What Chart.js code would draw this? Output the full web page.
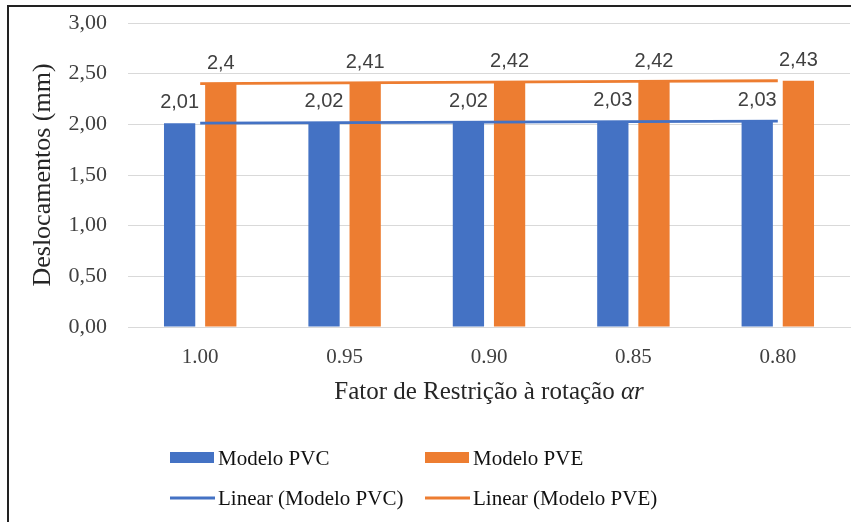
<!DOCTYPE html>
<html>
<head>
<meta charset="utf-8">
<script src="https://cdn.jsdelivr.net/npm/chart.js@4.4.0/dist/chart.umd.min.js"></script>
<style>
  html, body { margin: 0; padding: 0; background: #fff; }
  #quadro { position: relative; width: 857px; height: 522px; overflow: hidden; background: #fff; }
  #moldura { position: absolute; left: 7px; top: 5px; width: 842px; height: 530px;
             border-top: 2px solid #222; border-left: 2px solid #222; }
  #grafico { position: absolute; left: 0; top: 0; }
</style>
</head>
<body>
<div id="quadro">
  <div id="moldura"></div>
  <canvas id="grafico" width="857" height="522"></canvas>
</div>
<script>
const categorias = ['1.00', '0.95', '0.90', '0.85', '0.80'];
const modeloPVC = [2.01, 2.02, 2.02, 2.03, 2.03];
const modeloPVE = [2.4, 2.41, 2.42, 2.42, 2.43];
const eixoY = { min: 0, max: 3, passo: 0.5 };

const AZUL = '#4472C4';
const LARANJA = '#ED7D31';
const SERIF = '"Liberation Serif", "Times New Roman", serif';
const SANS = '"Liberation Sans", Arial, sans-serif';

// linha de tendência linear (mínimos quadrados, x = 1..n)
function tendenciaLinear(valores) {
    const n = valores.length;
    const xs = valores.map((_, i) => i + 1);
    const mx = xs.reduce((a, b) => a + b, 0) / n;
    const my = valores.reduce((a, b) => a + b, 0) / n;
    let num = 0, den = 0;
    xs.forEach((x, i) => { num += (x - mx) * (valores[i] - my); den += (x - mx) ** 2; });
    const b = num / den;
    return xs.map(x => my + b * (x - mx));
}

const virgula = v => String(v).replace('.', ',');

// rótulos de valor em cima das barras
const rotulos = {
    id: 'rotulos',
    afterDatasetsDraw(chart) {
        const ctx = chart.ctx;
        ctx.save();
        ctx.font = '20px ' + SANS;
        ctx.fillStyle = '#404040';
        ctx.textAlign = 'center';
        ctx.textBaseline = 'alphabetic';
        chart.data.datasets.forEach((ds, i) => {
            if (ds.type !== 'bar') return;
            chart.getDatasetMeta(i).data.forEach((barra, j) => {
                ctx.fillText(virgula(ds.data[j]), barra.x, barra.y - 15);
            });
        });
        ctx.restore();
    }
};

// título do eixo x (com o símbolo em itálico) e legenda em duas linhas
const tituloELegenda = {
    id: 'tituloELegenda',
    afterDraw(chart) {
        const ctx = chart.ctx;
        const area = chart.chartArea;
        ctx.save();

        const parte1 = 'Fator de Restrição à rotação ';
        const parte2 = 'αr';
        const f1 = '25px ' + SERIF;
        const f2 = 'italic 25px ' + SERIF;
        ctx.font = f1; const w1 = ctx.measureText(parte1).width;
        ctx.font = f2; const w2 = ctx.measureText(parte2).width;
        let x = (area.left + area.right) / 2 - (w1 + w2) / 2;
        const y = area.bottom + 65;
        ctx.fillStyle = '#262626';
        ctx.textBaseline = 'middle';
        ctx.textAlign = 'left';
        ctx.font = f1; ctx.fillText(parte1, x, y);
        ctx.font = f2; ctx.fillText(parte2, x + w1, y);

        const itens = [
            { texto: 'Modelo PVC', cor: AZUL, tipo: 'barra', col: 0, lin: 0 },
            { texto: 'Modelo PVE', cor: LARANJA, tipo: 'barra', col: 1, lin: 0 },
            { texto: 'Linear (Modelo PVC)', cor: AZUL, tipo: 'linha', col: 0, lin: 1 },
            { texto: 'Linear (Modelo PVE)', cor: LARANJA, tipo: 'linha', col: 1, lin: 1 }
        ];
        const colX = [170, 425];
        const linY = [area.bottom + 131, area.bottom + 171];
        ctx.font = '21px ' + SERIF;
        itens.forEach(it => {
            const x0 = colX[it.col];
            const y0 = linY[it.lin];
            ctx.fillStyle = it.cor;
            ctx.strokeStyle = it.cor;
            if (it.tipo === 'barra') {
                ctx.fillRect(x0, y0 - 6, 44, 11);
            } else {
                ctx.lineWidth = 3;
                ctx.beginPath();
                ctx.moveTo(x0, y0);
                ctx.lineTo(x0 + 45, y0);
                ctx.stroke();
            }
            ctx.fillStyle = '#111';
            ctx.fillText(it.texto, x0 + 48, y0 + 1);
        });
        ctx.restore();
    }
};

new Chart(document.getElementById('grafico'), {
    data: {
        labels: categorias,
        datasets: [
            {
                type: 'line', label: 'Linear (Modelo PVC)', data: tendenciaLinear(modeloPVC),
                borderColor: AZUL, borderWidth: 2.8, pointRadius: 0, order: 0
            },
            {
                type: 'line', label: 'Linear (Modelo PVE)', data: tendenciaLinear(modeloPVE),
                borderColor: LARANJA, borderWidth: 2.8, pointRadius: 0, order: 0
            },
            {
                type: 'bar', label: 'Modelo PVC', data: modeloPVC, backgroundColor: AZUL,
                categoryPercentage: 0.57, barPercentage: 0.76, order: 1
            },
            {
                type: 'bar', label: 'Modelo PVE', data: modeloPVE, backgroundColor: LARANJA,
                categoryPercentage: 0.57, barPercentage: 0.76, order: 1
            }
        ]
    },
    options: {
        responsive: false,
        animation: false,
        layout: { padding: { left: 8, right: 7, top: 23, bottom: 130 } },
        plugins: {
            legend: { display: false },
            tooltip: { enabled: false }
        },
        scales: {
            x: {
                offset: true,
                grid: { display: false, drawTicks: false },
                border: { display: true, color: '#d9d9d9', width: 1 },
                ticks: { color: '#404040', font: { family: SERIF, size: 21 }, padding: 18 },
                afterFit: s => { s.height = 65; }
            },
            y: {
                min: eixoY.min,
                max: eixoY.max,
                ticks: {
                    stepSize: eixoY.passo,
                    color: '#404040',
                    font: { family: SERIF, size: 22 },
                    padding: 21,
                    callback: v => v.toFixed(2).replace('.', ',')
                },
                grid: { color: '#d9d9d9', lineWidth: 1, drawTicks: false },
                border: { display: false },
                title: {
                    display: true,
                    text: 'Deslocamentos (mm)',
                    color: '#262626',
                    font: { family: SERIF, size: 26 },
                    padding: { top: 20, bottom: 0 }
                },
                afterFit: s => {
                    s.width = 120;
                    // o espaçamento dos rótulos não deve empurrar a área do gráfico
                    s.paddingTop = 10;
                    s.paddingBottom = 0;
                }
            }
        }
    },
    plugins: [rotulos, tituloELegenda]
});
</script>
</body>
</html>
